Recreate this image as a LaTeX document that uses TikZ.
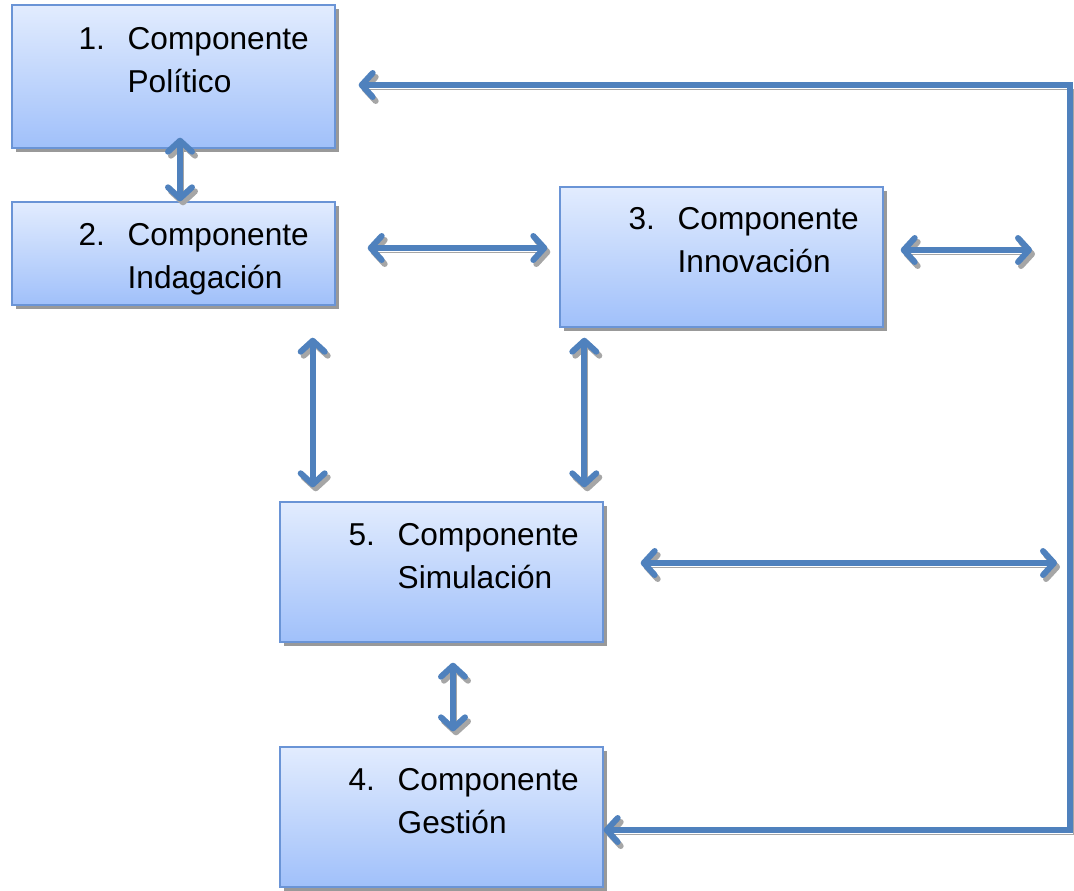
\documentclass[tikz,border=0pt]{standalone}
\usepackage{fontspec}
\setmainfont{Liberation Sans}
\usetikzlibrary{arrows.meta, positioning, shadows, calc}
\definecolor{linkblue}{RGB}{79,129,189}
\definecolor{boxline}{RGB}{106,148,214}
\definecolor{boxtop}{RGB}{226,236,254}
\definecolor{boxbottom}{RGB}{160,192,250}

\begin{document}
\begin{tikzpicture}[
      font=\fontsize{18}{24.5}\selectfont,
      component/.style={
        draw=boxline,
        line width=0.8pt,
        top color=boxtop,
        bottom color=boxbottom,
        minimum width=64.6mm,
        inner sep=0pt,
        drop shadow={shadow xshift=0.7mm, shadow yshift=-0.8mm, fill=black!40, opacity=1}
      },
      comptext/.style={
        inner sep=0pt,
        align=left
      },
      link/.style={
        {Straight Barb[length=2.2mm,width=4.8mm,line width=3.4pt,round]}-{Straight Barb[length=2.2mm,width=4.8mm,line width=3.4pt,round]},
        draw=linkblue,
        line width=3.2pt,
        preaction={draw=black!35, transform canvas={shift={(0.6mm,-0.8mm)}}}
      }
    ]
    \useasboundingbox (0,0) rectangle (21.48,-17.8);

    % Component boxes
    \node[component, minimum height=28.6mm] (pol) at (3.47,-1.53) {};
    \node[component, minimum height=20.6mm] (ind) at (3.47,-5.07) {};
    \node[component, minimum height=28mm] (inn) at (14.43,-5.14) {};
    \node[component, minimum height=28mm] (sim) at (8.83,-11.44) {};
    \node[component, minimum height=28mm] (ges) at (8.83,-16.34) {};

    % Component texts
    \node[comptext, below right=3mm and 13.4mm of pol.north west] (polt)
      {\begin{tabular}{@{}p{9.8mm}@{}l@{}}1. & Componente\\ & Político\end{tabular}};
    \node[comptext, below right=2.8mm and 13.4mm of ind.north west] (indt)
      {\begin{tabular}{@{}p{9.8mm}@{}l@{}}2. & Componente\\ & Indagación\end{tabular}};
    \node[comptext, below right=2.6mm and 13.8mm of inn.north west] (innt)
      {\begin{tabular}{@{}p{9.8mm}@{}l@{}}3. & Componente\\ & Innovación\end{tabular}};
    \node[comptext, below right=2.8mm and 13.8mm of sim.north west] (simt)
      {\begin{tabular}{@{}p{9.8mm}@{}l@{}}5. & Componente\\ & Simulación\end{tabular}};
    \node[comptext, below right=2.8mm and 13.8mm of ges.north west] (gest)
      {\begin{tabular}{@{}p{9.8mm}@{}l@{}}4. & Componente\\ & Gestión\end{tabular}};

    % Corners of the return line
    \coordinate (loopne) at (21.4,-1.7);
    \coordinate (loopse) at (21.4,-16.6);

    % Links between components
    \draw[link, shorten <=-2.2mm] ([xshift=1.3mm]pol.south) -- ([xshift=1.3mm]pol.south |- ind.north);
    \draw[link, shorten <=6.4mm, shorten >=2.4mm] ([yshift=1.1mm]ind.east) -- ([yshift=1.1mm]ind.east -| inn.west);
    \draw[link, shorten <=3.4mm, shorten >=7.6mm] ([yshift=1.4mm]inn.east) -- ([yshift=1.4mm]inn.east -| loopne);
    \draw[link, shorten <=6.4mm, shorten >=2.8mm] ([xshift=-4.6mm]ind.south east) -- ([xshift=-4.6mm]ind.south east |- sim.north);
    \draw[link, shorten <=2mm, shorten >=2.8mm] ([xshift=5mm]inn.south west) -- ([xshift=5mm]inn.south west |- sim.north);
    \draw[link, shorten <=7.4mm, shorten >=2.6mm] ([yshift=1.8mm]sim.east) -- ([yshift=1.8mm]sim.east -| loopne);
    \draw[link, shorten <=4mm, shorten >=3mm] ([xshift=2.3mm]sim.south) -- ([xshift=2.3mm]sim.south |- ges.north);

    % Return line
    \draw[link, shorten >=4.6mm] (ges.east |- loopse) -- (loopse) -- (loopne) -- (pol.east |- loopne);

  \end{tikzpicture}
\end{document}
